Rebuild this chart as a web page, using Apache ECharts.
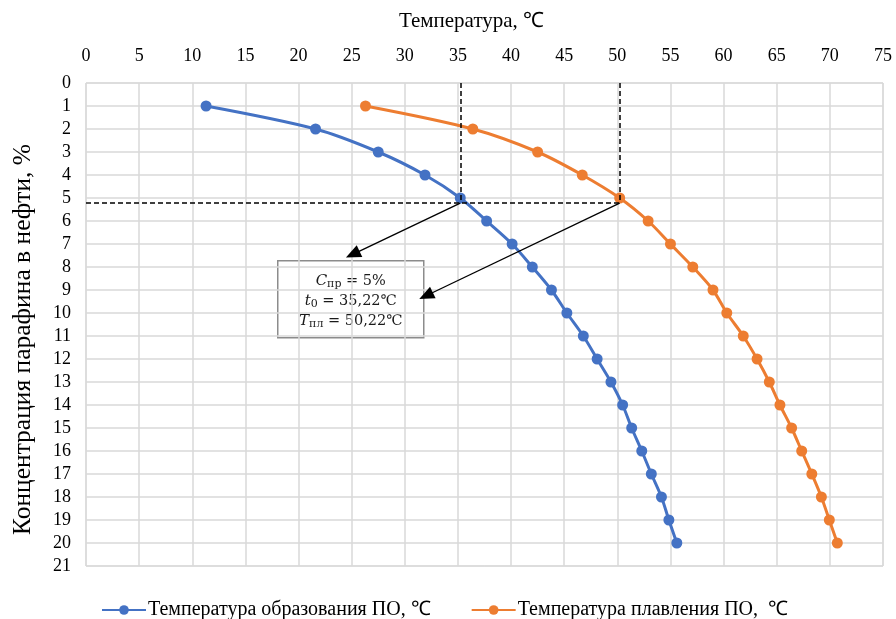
<!DOCTYPE html>
<html>
<head>
<meta charset="utf-8">
<script src="https://cdn.jsdelivr.net/npm/echarts@6/dist/echarts.min.js"></script>
<style>
  html, body { margin: 0; padding: 0; background: #ffffff; }
  #chart { width: 896px; height: 619px; }
</style>
</head>
<body>
<div id="chart"></div>
<script>
// Paraffin concentration in oil, % (vertical axis)
const concentration = [1, 2, 3, 4, 5, 6, 7, 8, 9, 10, 11, 12, 13, 14, 15, 16, 17, 18, 19, 20];

// Temperature of paraffin deposit formation, °C
const formationTemp = [11.3, 21.6, 27.5, 31.9, 35.22, 37.7, 40.1, 42.0, 43.8, 45.25,
  46.8, 48.1, 49.4, 50.5, 51.35, 52.3, 53.2, 54.15, 54.85, 55.6];

// Melting temperature of paraffin deposits, °C
const meltingTemp = [26.3, 36.4, 42.5, 46.7, 50.22, 52.9, 55.0, 57.1, 59.0, 60.3,
  61.85, 63.15, 64.3, 65.3, 66.4, 67.35, 68.3, 69.2, 69.95, 70.7];

// Reference point: concentration and the two temperatures
const refConc = 5.22;
const refFormation = 35.22;
const refMelting = 50.22;

// Arrow ends pointing at the annotation box (temperature, concentration)
const arrowToBoxTop = [25.1, 7.45];
const arrowToBoxSide = [32.0, 9.25];

const seriesNames = ['Температура образования ПО, ℃', 'Температура плавления ПО,  ℃'];

const xTicks = { min: 0, max: 75, interval: 5 };
const yTicks = { min: 0, max: 21, interval: 1 };

const serif = 'Liberation Serif';
const blue = '#4472C4';
const orange = '#ED7D31';

function pairs(xs, ys) {
  return xs.map((x, i) => [x, ys[i]]);
}

const chart = echarts.init(document.getElementById('chart'), null, { renderer: 'canvas' });

const option = {
  backgroundColor: '#ffffff',
  animation: false,
  grid: {
    left: 86, top: 83, right: 13, bottom: 53,
    outerBoundsMode: 'none',
    containLabel: false,
    show: true, borderColor: '#d9d9d9', borderWidth: 1
  },
  xAxis: {
    type: 'value',
    position: 'top',
    min: xTicks.min, max: xTicks.max, interval: xTicks.interval,
    name: 'Температура, ℃',
    nameLocation: 'middle',
    nameGap: 51,
    nameTextStyle: { fontFamily: serif, fontSize: 21, color: '#000', padding: [0, 26, 0, 0] },
    axisLine: { show: false },
    axisTick: { show: false },
    axisLabel: { fontFamily: serif, fontSize: 18, color: '#000', margin: 18 },
    splitLine: { show: true, lineStyle: { color: '#d9d9d9', width: 1.5 } }
  },
  yAxis: {
    type: 'value',
    inverse: true,
    min: yTicks.min, max: yTicks.max, interval: yTicks.interval,
    name: 'Концентрация парафина в нефти, %',
    nameLocation: 'middle',
    nameGap: 50,
    nameRotate: 90,
    nameTextStyle: { fontFamily: serif, fontSize: 25.5, color: '#000', padding: [0, 30, 0, 0] },
    axisLine: { show: false },
    axisTick: { show: false },
    axisLabel: { fontFamily: serif, fontSize: 18, color: '#000', margin: 15 },
    splitLine: { show: true, lineStyle: { color: '#d9d9d9', width: 1.5 } }
  },
  legend: {
    data: seriesNames,
    left: 96,
    top: 595,
    itemWidth: 44,
    itemHeight: 12,
    itemGap: 40,
    textStyle: { fontFamily: serif, fontSize: 20, color: '#000', padding: [0, 0, 0, -3] }
  },
  series: [
    {
      name: seriesNames[0],
      type: 'line',
      data: pairs(formationTemp, concentration),
      smooth: 0.3,
      symbol: 'circle',
      symbolSize: 11,
      itemStyle: { color: blue },
      lineStyle: { color: blue, width: 3 },
      z: 3
    },
    {
      name: seriesNames[1],
      type: 'line',
      data: pairs(meltingTemp, concentration),
      smooth: 0.3,
      symbol: 'circle',
      symbolSize: 11,
      itemStyle: { color: orange },
      lineStyle: { color: orange, width: 3 },
      z: 3
    },
    {
      // dashed guide lines through the reference point
      name: 'guides',
      type: 'line',
      data: [],
      silent: true,
      z: 4,
      markLine: {
        silent: true,
        symbol: ['none', 'none'],
        label: { show: false },
        lineStyle: { color: '#000', type: [5, 3], width: 1.5 },
        data: [
          [{ coord: [refFormation, yTicks.min] }, { coord: [refFormation, refConc] }],
          [{ coord: [refMelting, yTicks.min] }, { coord: [refMelting, refConc] }],
          [{ coord: [xTicks.min, refConc] }, { coord: [refMelting, refConc] }]
        ]
      }
    },
    {
      // arrows from the reference points to the annotation box
      name: 'arrows',
      type: 'line',
      data: [],
      silent: true,
      z: 5,
      markLine: {
        silent: true,
        symbol: ['none', 'triangle'],
        symbolSize: [13, 15],
        label: { show: false },
        lineStyle: { color: '#000', type: 'solid', width: 1.3 },
        data: [
          [{ coord: [refFormation, refConc] }, { coord: arrowToBoxTop }],
          [{ coord: [refMelting, refConc] }, { coord: arrowToBoxSide }]
        ]
      }
    }
  ],
  graphic: [
    {
      type: 'group',
      left: 277,
      top: 260,
      z: 10,
      children: [
        {
          type: 'rect',
          shape: { x: 0, y: 0, width: 146, height: 77 },
          style: { fill: '#ffffff', stroke: '#8c8c8c', lineWidth: 1.5 }
        },
        {
          type: 'text',
          x: 73,
          y: 40,
          style: {
            text: '{v|C}{s|пр}{n| = 5%}\n{v|t}{s|0}{n| = 35,22℃}\n{v|T}{s|пл}{n| = 50,22℃}',
            align: 'center',
            verticalAlign: 'middle',
            lineHeight: 20,
            rich: {
              v: { fontFamily: 'DejaVu Serif', fontStyle: 'italic', fontSize: 15, fill: '#1a1a1a', lineHeight: 20 },
              s: { fontFamily: 'DejaVu Serif', fontSize: 11, fill: '#1a1a1a', padding: [6, 0, 0, 0], lineHeight: 20 },
              n: { fontFamily: 'DejaVu Serif', fontSize: 14.5, fill: '#1a1a1a', lineHeight: 20 }
            }
          }
        }
      ]
    }
  ]
};

chart.setOption(option);
</script>
</body>
</html>
